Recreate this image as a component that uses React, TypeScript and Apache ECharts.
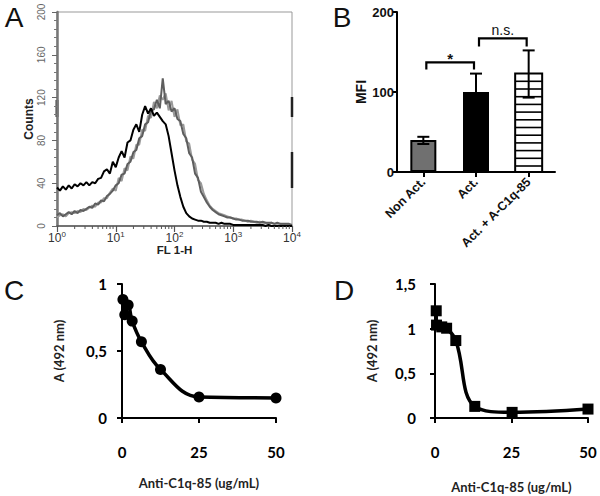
import React, { useEffect, useRef } from "react";
import * as echarts from "echarts";

// ---------- Panel A : flow cytometry histogram (FL 1-H, log decades) ----------
const HIST_STEP = 0.05; // bin width in log10 decades, starting at 10^0
const HIST_BLACK = [
  36, 33, 37, 34, 38, 35, 39, 37, 40, 38,
  41, 38, 41, 40, 44, 45, 51, 53, 49, 60,
  55, 64, 70, 64, 78, 80, 90, 95, 88, 104,
  112, 105, 110, 103, 106, 102, 98, 95, 84, 68,
  52, 38, 27, 18, 12, 9, 7, 6, 5, 5,
  4, 4, 3, 3, 3, 2, 3, 2, 2, 2,
  1, 1, 1, 1, 1, 1, 1, 1, 1, 1,
  1, 0, 1, 0, 0, 0, 0, 0, 0, 0,
  0,
];
const HIST_GRAY_DARK = [
  10, 12, 9, 11, 13, 11, 14, 12, 15, 14,
  16, 18, 17, 21, 20, 24, 23, 28, 30, 33,
  38, 40, 48, 49, 58, 60, 69, 71, 82, 84,
  95, 97, 108, 109, 118, 110, 138, 114, 117, 107,
  110, 100, 98, 86, 82, 68, 64, 49, 45, 32,
  27, 22, 18, 15, 13, 11, 10, 9, 8, 8,
  7, 6, 6, 5, 5, 5, 4, 4, 4, 3,
  4, 3, 3, 3, 2, 3, 2, 2, 2, 2,
  1,
];
const HIST_GRAY_LIGHT = [
  8, 10, 11, 9, 12, 13, 12, 14, 13, 16,
  15, 17, 19, 18, 22, 22, 26, 26, 31, 35,
  33, 45, 42, 54, 52, 65, 63, 76, 76, 90,
  89, 103, 101, 116, 110, 122, 118, 124, 108, 117,
  102, 109, 94, 95, 79, 77, 62, 58, 43, 40,
  30, 24, 19, 16, 14, 12, 11, 10, 9, 8,
  7, 7, 6, 6, 5, 4, 5, 4, 3, 4,
  3, 3, 2, 3, 2, 2, 2, 1, 2, 1,
  1,
];
const A_DECADES = [0, 1, 2, 3];
const A_MINOR_MULT = [2, 3, 4, 5, 6, 7, 8, 9];

// ---------- Panel B : MFI bars ----------
const B_CATS = ["Non Act.", "Act.", "Act. + A-C1q-85"];
const B_MEANS = [40, 100, 123];
const B_ERR_LOW = [35, 77, 93];
const B_ERR_HIGH = [44, 123, 152];
const B_SIG = [
  [0, 1, 137, 128],
  [1, 2, 167, 157],
];
const B_SIG_LABELS = ["*", "n.s."];

// ---------- Panel C ----------
const C_X = [0.3, 0.9, 2, 3.3, 6.3, 12.5, 25, 50];
const C_Y = [0.885, 0.77, 0.843, 0.723, 0.569, 0.362, 0.157, 0.15];

// ---------- Panel D ----------
const D_X = [0.4, 0.5, 2.2, 3.8, 6.8, 13, 25.2, 50];
const D_Y = [1.2, 1.04, 1.02, 1.005, 0.867, 0.13, 0.063, 0.1];

const ARIAL = '"Liberation Sans", Arial, sans-serif';
const CAL = 'Lato, "Open Sans", sans-serif';

function histPairs(arr: number[]) {
  return arr.map((v, i) => [i * HIST_STEP, v]);
}

export default function App() {
  const ref = useRef<HTMLDivElement>(null);

  useEffect(() => {
    document.body.style.margin = "0";
    if (!ref.current) return;
    const chart = echarts.init(ref.current, undefined, { renderer: "svg" });

    const minorTicks: number[] = [];
    A_DECADES.forEach((d) => A_MINOR_MULT.forEach((m) => minorTicks.push(d + Math.log10(m))));

    const commaFmt = (v: number) => String(v).replace(".", ",");
    const letter = (t: string, x: number, y: number) => ({
      type: "text", x, y,
      style: { text: t, font: `28px ${ARIAL}`, fill: "#111", align: "center", verticalAlign: "middle" },
    });

    const option: any = {
      animation: false,
      backgroundColor: "#fff",
      textStyle: { fontFamily: ARIAL },
      graphic: [
        letter("A", 14, 17),
        letter("B", 342, 17),
        letter("C", 14, 290),
        letter("D", 344, 290),
        // cytometer marker bars on the histogram frame
        { type: "line", shape: { x1: 292, y1: 97, x2: 292, y2: 117 }, style: { stroke: "#222", lineWidth: 2.5 } },
        { type: "line", shape: { x1: 292, y1: 152, x2: 292, y2: 188 }, style: { stroke: "#222", lineWidth: 2.5 } },
        { type: "line", shape: { x1: 57, y1: 100, x2: 57, y2: 117 }, style: { stroke: "#333", lineWidth: 3 } },
      ],
      grid: [
        { left: 57, top: 12, width: 235, height: 214, show: true, borderColor: "#999", borderWidth: 1, backgroundColor: "transparent" },
        { left: 397, top: 12, width: 158, height: 160 },
        { left: 122, top: 284, width: 154, height: 134 },
        { left: 435, top: 284, width: 153, height: 134 },
      ],
      xAxis: [
        {
          gridIndex: 0, type: "value", min: 0, max: 4, interval: 1,
          axisLine: { show: true, lineStyle: { color: "#555", width: 1.5 } },
          axisTick: { show: true, length: 6, lineStyle: { color: "#555", width: 1.2 } },
          splitLine: { show: false },
          axisLabel: {
            margin: 4,
            formatter: (v: number) => `{b|10}{s|${v}}`,
            rich: {
              b: { fontSize: 12, fontFamily: ARIAL, color: "#333", lineHeight: 15 },
              s: { fontSize: 8, fontFamily: ARIAL, color: "#333", lineHeight: 9, verticalAlign: "top" },
            },
          },
          name: "FL 1-H", nameLocation: "middle", nameGap: 17,
          nameTextStyle: { fontSize: 11.5, fontWeight: "bold", color: "#222", fontFamily: ARIAL },
        },
        {
          gridIndex: 1, type: "category", data: B_CATS,
          axisLine: { show: true, lineStyle: { color: "#000", width: 2 } },
          axisTick: { show: true, alignWithLabel: true, length: 5, lineStyle: { color: "#000", width: 2 } },
          axisLabel: { rotate: 45, interval: 0, margin: 8, fontSize: 12.5, fontWeight: "bold", color: "#111", fontFamily: ARIAL },
          splitLine: { show: false },
        },
        {
          gridIndex: 2, type: "value", min: 0, max: 50, interval: 25,
          axisLine: { show: true, lineStyle: { color: "#000", width: 2 } },
          axisTick: { show: true, length: 5, lineStyle: { color: "#000", width: 2 } },
          axisLabel: { margin: 26, fontSize: 15, fontWeight: "bold", color: "#000", fontFamily: CAL },
          splitLine: { show: false },
          name: "Anti-C1q-85 (ug/mL)", nameLocation: "middle", nameGap: 58,
          nameTextStyle: { fontSize: 13, fontWeight: "bold", color: "#222", fontFamily: CAL },
        },
        {
          gridIndex: 3, type: "value", min: 0, max: 50, interval: 25,
          axisLine: { show: true, lineStyle: { color: "#000", width: 2 } },
          axisTick: { show: true, length: 5, lineStyle: { color: "#000", width: 2 } },
          axisLabel: { margin: 26, fontSize: 15, fontWeight: "bold", color: "#000", fontFamily: CAL },
          splitLine: { show: false },
          name: "Anti-C1q-85 (ug/mL)", nameLocation: "middle", nameGap: 62,
          nameTextStyle: { fontSize: 13, fontWeight: "bold", color: "#222", fontFamily: CAL },
        },
      ],
      yAxis: [
        {
          gridIndex: 0, type: "value", min: 0, max: 200, interval: 40,
          axisLine: { show: true, lineStyle: { color: "#777", width: 2.5 } },
          axisTick: { show: true, length: 5, lineStyle: { color: "#666", width: 1 } },
          minorTick: { show: true, splitNumber: 5, length: 3, lineStyle: { color: "#777", width: 1 } },
          splitLine: { show: false },
          axisLabel: { rotate: 90, margin: 11, fontSize: 10, color: "#666", fontFamily: ARIAL },
          name: "Counts", nameLocation: "middle", nameGap: 22,
          nameTextStyle: { fontSize: 12, fontWeight: "bold", color: "#222", fontFamily: ARIAL },
        },
        {
          gridIndex: 1, type: "value", min: 0, max: 200, interval: 100,
          axisLine: { show: true, lineStyle: { color: "#000", width: 2 } },
          axisTick: { show: true, length: 4, lineStyle: { color: "#000", width: 2 } },
          splitLine: { show: false },
          axisLabel: { margin: 3, fontSize: 13, fontWeight: "bold", color: "#111", fontFamily: ARIAL },
          name: "MFI", nameLocation: "middle", nameGap: 29,
          nameTextStyle: { fontSize: 14, fontWeight: "bold", color: "#111", fontFamily: ARIAL },
        },
        {
          gridIndex: 2, type: "value", min: 0, max: 1, interval: 0.5,
          axisLine: { show: true, lineStyle: { color: "#000", width: 2 } },
          axisTick: { show: true, length: 5, lineStyle: { color: "#000", width: 2 } },
          splitLine: { show: false },
          axisLabel: { margin: 15, fontSize: 15, fontWeight: "bold", color: "#000", fontFamily: CAL, formatter: commaFmt },
          name: "A (492 nm)", nameLocation: "middle", nameGap: 57,
          nameTextStyle: { fontSize: 13, fontWeight: "bold", color: "#222", fontFamily: CAL },
        },
        {
          gridIndex: 3, type: "value", min: 0, max: 1.5, interval: 0.5,
          axisLine: { show: true, lineStyle: { color: "#000", width: 2 } },
          axisTick: { show: true, length: 5, lineStyle: { color: "#000", width: 2 } },
          splitLine: { show: false },
          axisLabel: { margin: 19, fontSize: 15, fontWeight: "bold", color: "#000", fontFamily: CAL, formatter: commaFmt },
          name: "A (492 nm)", nameLocation: "middle", nameGap: 57,
          nameTextStyle: { fontSize: 13, fontWeight: "bold", color: "#222", fontFamily: CAL },
        },
      ],
      series: [
        // ---- A ----
        {
          type: "line", xAxisIndex: 0, yAxisIndex: 0, data: histPairs(HIST_GRAY_LIGHT),
          showSymbol: false, lineStyle: { color: "#9a9a9a", width: 2 }, z: 2,
        },
        {
          type: "line", xAxisIndex: 0, yAxisIndex: 0, data: histPairs(HIST_GRAY_DARK),
          showSymbol: false, lineStyle: { color: "#5e5e5e", width: 2 }, z: 3,
        },
        {
          type: "line", xAxisIndex: 0, yAxisIndex: 0, data: histPairs(HIST_BLACK),
          showSymbol: false, lineStyle: { color: "#000", width: 2 }, z: 4,
        },
        {
          type: "custom", xAxisIndex: 0, yAxisIndex: 0, data: minorTicks.map((t) => [t, 0]),
          clip: false, silent: true, z: 5,
          renderItem: (_p: any, api: any) => {
            const pt = api.coord([api.value(0), 0]);
            return { type: "line", shape: { x1: pt[0], y1: pt[1], x2: pt[0], y2: pt[1] + 3 }, style: { stroke: "#555", lineWidth: 1 } };
          },
        },
        // ---- B ----
        {
          type: "bar", xAxisIndex: 1, yAxisIndex: 1, barWidth: 26,
          data: [
            { value: B_MEANS[0], itemStyle: { color: "#707070" } },
            { value: B_MEANS[1], itemStyle: { color: "#000" } },
            "-",
          ],
          itemStyle: { borderColor: "#000", borderWidth: 2 },
          z: 2,
        },
        {
          type: "custom", xAxisIndex: 1, yAxisIndex: 1, data: [[2, B_MEANS[2]]], z: 3,
          renderItem: (_p: any, api: any) => {
            const top = api.coord([api.value(0), api.value(1)]);
            const base = api.coord([api.value(0), 0]);
            const bw = 27;
            const children: any[] = [
              { type: "rect", shape: { x: top[0] - bw / 2, y: top[1], width: bw, height: base[1] - top[1] }, style: { fill: "#fff", stroke: "#000", lineWidth: 2 } },
            ];
            for (let y = top[1] + 7.7; y < base[1] - 3; y += 7.7) {
              children.push({ type: "line", shape: { x1: top[0] - bw / 2, y1: y, x2: top[0] + bw / 2, y2: y }, style: { stroke: "#000", lineWidth: 1.6 } });
            }
            return { type: "group", children };
          },
        },
        {
          type: "custom", xAxisIndex: 1, yAxisIndex: 1, z: 4,
          data: B_MEANS.map((_, i) => [i, B_ERR_LOW[i], B_ERR_HIGH[i]]),
          encode: { x: 0, y: 2 },
          renderItem: (_p: any, api: any) => {
            const x = api.value(0);
            const lo = api.coord([x, api.value(1)]);
            const hi = api.coord([x, api.value(2)]);
            const w = 6;
            const st = { stroke: "#000", lineWidth: 2 };
            return {
              type: "group",
              children: [
                { type: "line", shape: { x1: lo[0], y1: lo[1], x2: hi[0], y2: hi[1] }, style: st },
                { type: "line", shape: { x1: hi[0] - w, y1: hi[1], x2: hi[0] + w, y2: hi[1] }, style: st },
                { type: "line", shape: { x1: lo[0] - w, y1: lo[1], x2: lo[0] + w, y2: lo[1] }, style: st },
              ],
            };
          },
        },
        {
          type: "custom", xAxisIndex: 1, yAxisIndex: 1, z: 5, clip: false,
          data: B_SIG, encode: { x: 0, y: 2 },
          renderItem: (p: any, api: any) => {
            const a = api.coord([api.value(0), api.value(2)]);
            const b = api.coord([api.value(1), api.value(2)]);
            const endY = api.coord([api.value(0), api.value(3)])[1];
            const ax = a[0] + 3;
            const bx = b[0] - 2;
            const label = B_SIG_LABELS[p.dataIndex];
            const isStar = label === "*";
            return {
              type: "group",
              children: [
                { type: "polyline", shape: { points: [[ax, endY], [ax, a[1]], [bx, a[1]], [bx, endY]] }, style: { stroke: "#000", lineWidth: 2.2, fill: "none" } },
                {
                  type: "text", x: (ax + bx) / 2, y: isStar ? a[1] - 4 : a[1] - 8,
                  style: { text: label, align: "center", verticalAlign: "middle", font: isStar ? `bold 15px ${ARIAL}` : `14px ${ARIAL}`, fill: "#111" },
                },
              ],
            };
          },
        },
        // ---- C ----
        {
          type: "line", xAxisIndex: 2, yAxisIndex: 2, data: C_X.map((x, i) => [x, C_Y[i]]),
          smooth: 0.4, symbol: "circle", symbolSize: 11, showAllSymbol: true,
          itemStyle: { color: "#000" }, lineStyle: { color: "#000", width: 3.5 }, clip: false,
        },
        // ---- D ----
        {
          type: "line", xAxisIndex: 3, yAxisIndex: 3, data: D_X.map((x, i) => [x, D_Y[i]]),
          smooth: 0.4, symbol: "rect", symbolSize: 11, showAllSymbol: true,
          itemStyle: { color: "#000" }, lineStyle: { color: "#000", width: 3.5 }, clip: false,
        },
      ],
    };

    chart.setOption(option);
    return () => chart.dispose();
  }, []);

  return <div ref={ref} style={{ width: 600, height: 496 }} />;
}
